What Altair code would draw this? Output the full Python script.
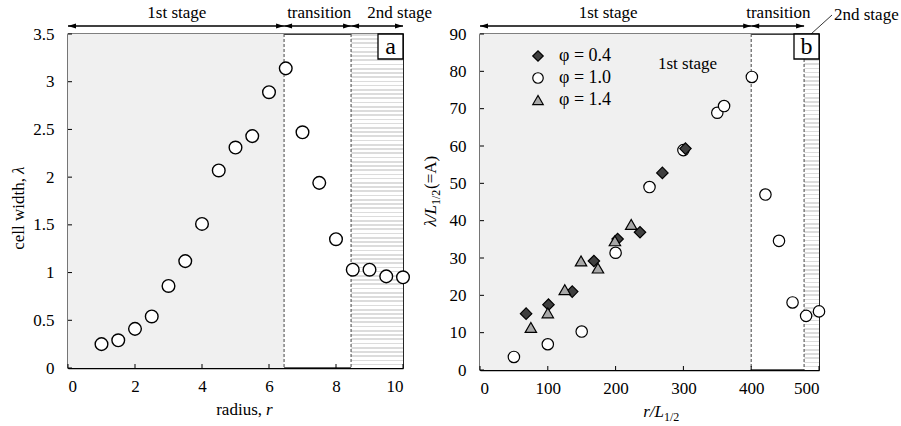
import altair as alt
import pandas as pd

FONT = "Liberation Serif, Times New Roman, Tinos, serif"

# ---------------- data ----------------
# panel a : cell width vs radius
r_left = [1, 1.5, 2, 2.5, 3, 3.5, 4, 4.5, 5, 5.5, 6, 6.5, 7, 7.5, 8, 8.5, 9, 9.5, 10]
lam_left = [0.25, 0.29, 0.41, 0.54, 0.86, 1.12, 1.51, 2.07, 2.31, 2.43, 2.89, 3.14,
            2.47, 1.94, 1.35, 1.03, 1.03, 0.96, 0.95]

# panel b : lambda/L vs r/L for three phi
phi_labels = ["φ = 0.4", "φ = 1.0", "φ = 1.4"]
r_04 = [68, 101, 136, 168, 203, 236, 269, 303]
A_04 = [15.1, 17.5, 21.0, 29.2, 35.1, 36.9, 52.8, 59.3]
r_10 = [50, 100, 150, 200, 250, 300, 350, 360, 401, 421, 441, 461, 481, 500]
A_10 = [3.5, 6.9, 10.3, 31.4, 49.0, 58.9, 68.9, 70.7, 78.5, 47.0, 34.6, 18.1, 14.5, 15.7]
r_14 = [75, 100, 125, 149, 174, 199, 223]
A_14 = [11.4, 15.3, 21.5, 29.2, 27.3, 34.6, 39.0]

# stages
stage_names_left = ["1st stage", "transition", "2nd stage"]
stage_bounds_left = [0, 6.45, 8.45, 10]
stage_label_x_left = [3.25, 7.5, 9.9]

stage_names_right = ["1st stage", "transition"]
stage_bounds_right = [0, 400, 478]
stage_label_x_right = [189, 440]

# ticks
xticks_left = [0, 2, 4, 6, 8, 10]
yticks_left = [0, 0.5, 1, 1.5, 2, 2.5, 3, 3.5]
xticks_right = [0, 100, 200, 300, 400, 500]
yticks_right = [0, 10, 20, 30, 40, 50, 60, 70, 80, 90]

# ---------------- sizes / styles ----------------
W_L, H_L = 335, 334
W_R, H_R = 339, 336
GAP = 77
DOTS = "#f0f0f0"


def stripes(n, color="#dcdcdc"):
    stops = []
    for i in range(n):
        a, b, c = i / n, (i + 0.4) / n, (i + 1) / n
        stops += [alt.GradientStop(offset=a, color=color),
                  alt.GradientStop(offset=b, color=color),
                  alt.GradientStop(offset=b, color="white"),
                  alt.GradientStop(offset=c, color="white")]
    return alt.Gradient(gradient="linear", x1=0, y1=0, x2=0, y2=1, stops=stops)


def txt(s, x, y, size=17, style="normal", angle=0, align="center", baseline="alphabetic"):
    return alt.Chart(pd.DataFrame({"t": [s]})).mark_text(
        font=FONT, fontSize=size, fontStyle=style, angle=angle, align=align,
        baseline=baseline, color="black").encode(
        x=alt.value(x), y=alt.value(y), text="t:N")


def panel(W, H, xdom, ydom, xticks, yticks, stage_names, bounds,
          label_x, dashes, dots_range, stripe_range, letter):
    X = lambda f: alt.X(f, type="quantitative", title=None,
                        scale=alt.Scale(domain=xdom, nice=False, zero=False),
                        axis=alt.Axis(values=xticks, labelExpr="'' + datum.value"))
    Y = lambda f: alt.Y(f, type="quantitative", title=None,
                        scale=alt.Scale(domain=ydom, nice=False, zero=False),
                        axis=alt.Axis(values=yticks, labelExpr="'' + datum.value"))
    reg = pd.DataFrame({"x0": [dots_range[0], stripe_range[0]],
                        "x1": [dots_range[1], stripe_range[1]],
                        "k": ["dots", "stripes"]})
    dots = alt.Chart(reg[reg.k == "dots"]).mark_rect(fill=DOTS, strokeWidth=0).encode(
        x=X("x0"), x2="x1", y=alt.value(0), y2=alt.value(H))
    strip = alt.Chart(reg[reg.k == "stripes"]).mark_rect(
        fill=stripes(int(H / 4.2)), strokeWidth=0).encode(
        x=X("x0"), x2="x1", y=alt.value(0), y2=alt.value(H))
    dash = alt.Chart(pd.DataFrame({"x": dashes})).mark_rule(
        color="#444444", strokeWidth=1, strokeDash=[3, 2]).encode(
        x=X("x"), y=alt.value(0), y2=alt.value(H))
    xt = alt.Chart(pd.DataFrame({"x": xticks})).mark_rule(color="black", strokeWidth=1).encode(
        x=X("x"), y=alt.value(H), y2=alt.value(H - 4))
    yt = alt.Chart(pd.DataFrame({"y": yticks})).mark_rule(color="black", strokeWidth=1).encode(
        y=Y("y"), x=alt.value(0), x2=alt.value(4))
    st = pd.DataFrame({"name": stage_names, "x0": bounds[:-1], "x1": bounds[1:],
                       "lx": label_x})
    arr = alt.Chart(st).mark_rule(color="black", strokeWidth=1.3).encode(
        x=X("x0"), x2="x1", y=alt.value(-8))
    head_r = alt.Chart(st).mark_point(shape="M0,0L-2,-0.65L-2,0.65Z", filled=True,
                                      fill="black", strokeWidth=0, size=64, opacity=1).encode(
        x=X("x1"), y=alt.value(-8))
    head_l = alt.Chart(st).mark_point(shape="M0,0L2,-0.65L2,0.65Z", filled=True,
                                      fill="black", strokeWidth=0, size=64, opacity=1).encode(
        x=X("x0"), y=alt.value(-8))
    stxt = alt.Chart(st).mark_text(font=FONT, fontSize=17, baseline="alphabetic",
                                   color="black").encode(
        x=X("lx"), y=alt.value(-16), text="name:N")
    one = pd.DataFrame({"t": [letter]})
    box = alt.Chart(one).mark_rect(fill="white", stroke="black", strokeWidth=1.3).encode(
        x=alt.value(W - 25), x2=alt.value(W), y=alt.value(0), y2=alt.value(25))
    let = alt.Chart(one).mark_text(font=FONT, fontSize=24, color="black",
                                   baseline="alphabetic").encode(
        x=alt.value(W - 12.5), y=alt.value(20), text="t:N")
    return [dots, strip, dash, xt, yt, arr, head_r, head_l, stxt], [box, let], X, Y


# ---------------- left panel ----------------
bgL, fgL, XL, YL = panel(W_L, H_L, [0, 10], [0, 3.5], xticks_left, yticks_left,
                         stage_names_left, stage_bounds_left, stage_label_x_left,
                         [6.45, 8.45], [0, 6.45], [8.45, 10], "a")
dfL = pd.DataFrame({"r": r_left, "lam": lam_left})
ptsL = alt.Chart(dfL).mark_point(shape="circle", filled=True, fill="white", stroke="black",
                                 strokeWidth=1.4, size=160, opacity=1).encode(
    x=XL("r"), y=YL("lam"))
titlesL = [
    txt("cell width,", -44, 144, angle=270, align="right"),
    txt("λ", -44, 140, angle=270, align="left", style="italic"),
    txt("radius,", 194, H_L + 47, align="right"),
    txt("r", 198, H_L + 47, align="left", style="italic"),
]
left = alt.layer(*bgL, ptsL, *fgL, *titlesL).properties(width=W_L, height=H_L)

# ---------------- right panel ----------------
bgR, fgR, XR, YR = panel(W_R, H_R, [0, 500], [0, 90], xticks_right, yticks_right,
                         stage_names_right, stage_bounds_right, stage_label_x_right,
                         [400, 478], [0, 400], [478, 500], "b")
dfR = pd.concat([
    pd.DataFrame({"r": r_10, "A": A_10, "phi": phi_labels[1]}),
    pd.DataFrame({"r": r_04, "A": A_04, "phi": phi_labels[0]}),
    pd.DataFrame({"r": r_14, "A": A_14, "phi": phi_labels[2]}),
], ignore_index=True)
leg = alt.Legend(title=None, orient="none", legendX=W_L + GAP + 49, legendY=13, padding=0,
                 labelFont=FONT, labelFontSize=18, labelColor="black", labelOffset=12,
                 symbolStrokeWidth=1.2, symbolSize=110, rowPadding=4)
ptsR = alt.Chart(dfR).mark_point(filled=True, strokeWidth=1.2, size=130,
                                 opacity=1).encode(
    x=XR("r"), y=YR("A"),
    shape=alt.Shape("phi:N", scale=alt.Scale(domain=phi_labels,
                                             range=["diamond", "circle", "triangle-up"]),
                    legend=leg),
    fill=alt.Fill("phi:N", scale=alt.Scale(domain=phi_labels,
                                           range=["#3f3f3f", "white", "#a8a8a8"]),
                  legend=leg),
    stroke=alt.Stroke("phi:N", scale=alt.Scale(domain=phi_labels,
                                               range=["black", "black", "black"]),
                      legend=leg),
)
inner = alt.Chart(pd.DataFrame({"t": ["1st stage"], "x": [306], "y": [82]})).mark_text(
    font=FONT, fontSize=17, color="black").encode(x=XR("x"), y=YR("y"), text="t:N")
leader = alt.Chart(pd.DataFrame({"t": ["2nd stage"]})).mark_rule(
    color="black", strokeWidth=0.8).encode(
    x=alt.value(W_R - 8), x2=alt.value(W_R + 13), y=alt.value(0), y2=alt.value(-19))
titlesR = [
    txt("2nd stage", W_R + 15, -14, align="left"),
    txt("λ/L", -44, 171, angle=270, align="right", style="italic"),
    txt("1/2", -40, 171, size=12, angle=270, align="left"),
    txt("(=A)", -44, 155, angle=270, align="left"),
    txt("r/L", 184, H_R + 47, align="right", style="italic"),
    txt("1/2", 184, H_R + 51, size=12, align="left"),
]
right = alt.layer(*bgR, ptsR, inner, *fgR, leader, *titlesR).properties(width=W_R, height=H_R)

chart = alt.hconcat(left, right, spacing=GAP, bounds="flush").properties(
    padding={"left": 9, "top": 3, "right": 0, "bottom": 0}
).configure(font=FONT).configure_view(stroke="black", strokeWidth=1.3).configure_axis(
    labelFont=FONT, labelFontSize=17, labelColor="black", domainColor="black",
    domainWidth=1.3, ticks=False, tickSize=0, grid=False, labelPadding=14, zindex=1
).configure_axisX(labelPadding=10).configure_text(font=FONT)

chart.save("out.html", embed_options={"renderer": "svg", "actions": False})
